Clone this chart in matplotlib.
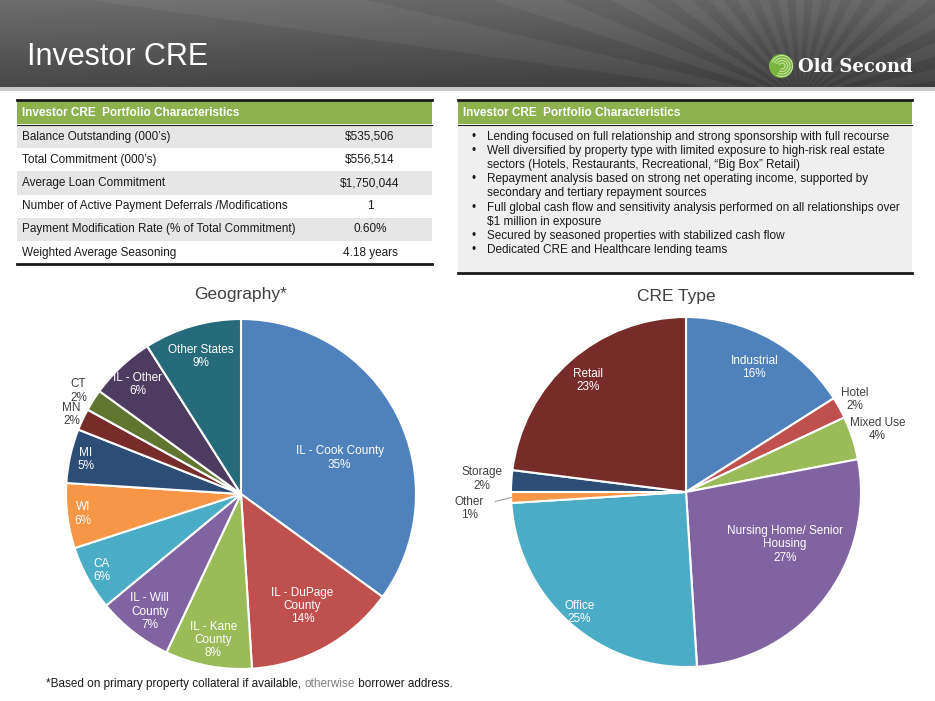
import numpy as np
import matplotlib.pyplot as plt
from matplotlib.patches import Rectangle, Polygon, Circle, Arc

plt.rcParams['font.family'] = ['Liberation Sans', 'DejaVu Sans']

W, H = 935, 701

# ---- data ----
table_title = "Investor CRE  Portfolio Characteristics"
table_labels = ["Balance Outstanding (000\u2019s)", "Total Commitment (000\u2019s)",
                "Average Loan Commitment", "Number of Active Payment Deferrals /Modifications",
                "Payment Modification Rate (% of Total Commitment)", "Weighted Average Seasoning"]
table_values = ["$535,506", "$556,514", "$1,750,044", "1", "0.60%", "4.18 years"]

bullets = [
    ["Lending focused on full relationship and strong sponsorship with full recourse"],
    ["Well diversified by property type with limited exposure to high-risk real estate",
     "sectors (Hotels, Restaurants, Recreational, \u201cBig Box\u201d Retail)"],
    ["Repayment analysis based on strong net operating income, supported by",
     "secondary and tertiary repayment sources"],
    ["Full global cash flow and sensitivity analysis performed on all relationships over",
     "$1 million in exposure"],
    ["Secured by seasoned properties with stabilized cash flow"],
    ["Dedicated CRE and Healthcare lending teams"],
]

geo_labels = ["IL - Cook County", "IL - DuPage\nCounty", "IL - Kane\nCounty", "IL - Will\nCounty",
              "CA", "WI", "MI", "MN", "CT", "IL - Other", "Other States"]
geo_pct = [35, 14, 8, 7, 6, 6, 5, 2, 2, 6, 9]
geo_colors = ["#4f81bd", "#c0504d", "#9bbb59", "#8064a2", "#4bacc6", "#f79646",
              "#2c4d75", "#772c2a", "#5f7530", "#4d3b62", "#276a7c"]
# label placement (radius fraction, angle nudge in degrees)
geo_rfac = [0.60, 0.73, 0.85, 0.85, 0.91, 0.91, 0.91, 1.07, 1.10, 0.86, 0.82]
geo_nudge = [-7, 0, 0, 0, 0, 0, 0, 0, 0, 0, 0]

cre_labels = ["Industrial", "Hotel", "Mixed Use", "Nursing Home/ Senior\nHousing",
              "Office", "Other", "Storage", "Retail"]
cre_pct = [16, 2, 4, 27, 25, 1, 2, 23]
cre_colors = ["#4f81bd", "#c0504d", "#9bbb59", "#8064a2", "#4bacc6", "#f79646",
              "#2c4d75", "#772c2a"]
cre_rfac = [0.81, 1.10, 1.15, 0.64, 0.92, 1.24, 1.17, 0.85]
cre_nudge = [0, 0, 0, 10, 0, 2.5, 0, 0]

fig = plt.figure(figsize=(9.35, 7.01), dpi=100)
bg = fig.add_axes([0, 0, 1, 1])
bg.axis('off')

# ---- header band ----
grad = np.linspace(0.40, 0.25, 88)[:, None] * np.ones((1, 200))
horiz = np.linspace(0.03, -0.02, 200)[None, :]
g = np.clip(grad + horiz, 0, 1)
bg.imshow(np.dstack([g, g, g]), extent=(0, W, 88, 0), aspect='auto', zorder=0)
clip = Rectangle((0, 0), W, 88, transform=bg.transData, visible=False)
bg.add_patch(clip)
apex = (800, 100)
angs = np.linspace(8, 172, 34)
for i in range(0, len(angs) - 1, 2):
    a0, a1 = np.radians(angs[i]), np.radians(angs[i + 1])
    pts = [apex, (apex[0] + 1500 * np.cos(a0), apex[1] - 1500 * np.sin(a0)),
           (apex[0] + 1500 * np.cos(a1), apex[1] - 1500 * np.sin(a1))]
    p = Polygon(pts, closed=True, facecolor='white', alpha=0.05, edgecolor='none', zorder=1)
    bg.add_patch(p)
    p.set_clip_path(clip)
bg.add_patch(Rectangle((0, 87), W, 4, facecolor='#c9c9c9', edgecolor='none', zorder=2))
bg.text(27, 57, "Investor CRE", color='white', fontsize=22, va='center', ha='left', zorder=3)

# logo
bg.add_patch(Circle((781, 66), 12, facecolor='#78b43e', edgecolor='none', zorder=3))
for r in [3, 5.5, 8, 10.5]:
    bg.add_patch(Arc((782, 66), 2 * r, 2 * r, theta1=200, theta2=120,
                     color='#c8e6a0', lw=0.8, zorder=4))
bg.text(798, 67, "Old Second", color='white', fontsize=13, fontweight='bold',
        family='DejaVu Serif', va='center', ha='left', zorder=3)

# ---- left table ----
lx0, lx1 = 17, 432
bg.add_patch(Rectangle((lx0, 101), lx1 - lx0, 23, facecolor='#8db14c', edgecolor='none'))
bg.plot([lx0, lx1], [100, 100], color='#1a1a1a', lw=2)
bg.plot([lx0, lx1], [124.5, 124.5], color='#1a1a1a', lw=0.8)
bg.text(22, 112.5, table_title, color='white', fontsize=8.5, fontweight='bold', va='center')
row_h = 23.2
for i, (lab, val) in enumerate(zip(table_labels, table_values)):
    y0 = 125 + i * row_h
    if i % 2 == 0:
        bg.add_patch(Rectangle((lx0, y0), lx1 - lx0, row_h, facecolor='#e6e6e6', edgecolor='none'))
    bg.text(22, y0 + row_h / 2, lab, fontsize=8.5, color='#1a1a1a', va='center')
    bg.text(370, y0 + row_h / 2, val, fontsize=8.5, color='#1a1a1a', va='center', ha='center')
bg.plot([lx0, lx1], [264, 264], color='#1a1a1a', lw=2)

# ---- right table ----
rx0, rx1 = 458, 912
bg.add_patch(Rectangle((rx0, 101), rx1 - rx0, 23, facecolor='#8db14c', edgecolor='none'))
bg.add_patch(Rectangle((rx0, 125), rx1 - rx0, 148, facecolor='#efefef', edgecolor='none'))
bg.plot([rx0, rx1], [100, 100], color='#1a1a1a', lw=2)
bg.plot([rx0, rx1], [124.5, 124.5], color='#1a1a1a', lw=0.8)
bg.plot([rx0, rx1], [273, 273], color='#1a1a1a', lw=2)
bg.text(463, 112.5, table_title, color='white', fontsize=8.5, fontweight='bold', va='center')
y = 137
for item in bullets:
    bg.text(471, y, "\u2022", fontsize=8.5, color='#1a1a1a', va='center')
    for line in item:
        bg.text(487, y, line, fontsize=8.5, color='#1a1a1a', va='center')
        y += 14.1

# ---- titles / footnote ----
bg.text(241, 295, "Geography*", fontsize=12.5, color='#404040', ha='center', va='center')
bg.text(676, 296, "CRE Type", fontsize=12.5, color='#404040', ha='center', va='center')
t1 = bg.text(46, 684, "*Based on primary property collateral if available, ", fontsize=8.5,
             color='#1a1a1a', va='center')
t2 = bg.annotate("otherwise", xy=(1, 0), xycoords=t1, va='bottom', fontsize=8.5, color='#7f7f7f')
bg.annotate(" borrower address.", xy=(1, 0), xycoords=t2, va='bottom', fontsize=8.5, color='#1a1a1a')

bg.set_xlim(0, W)
bg.set_ylim(H, 0)


def draw_pie(cx, cy, R, pct, colors, labels, rfac, nudge):
    S = 2.6 * R
    ax = fig.add_axes([(cx - S / 2) / W, 1 - (cy + S / 2) / H, S / W, S / H])
    wedges, _ = ax.pie(pct, colors=colors, startangle=90, counterclock=False, radius=1,
                       wedgeprops=dict(edgecolor='white', linewidth=1.5))
    for w, lab, p, rf, nd in zip(wedges, labels, pct, rfac, nudge):
        mid = np.radians((w.theta1 + w.theta2) / 2)
        ang = mid + np.radians(nd)
        col = 'white' if rf < 1 else '#404040'
        ax.text(rf * np.cos(ang), rf * np.sin(ang), f"{lab}\n{p}%", ha='center', va='center',
                fontsize=8.5, color=col, linespacing=1.15)
        if rf > 1.2:
            ax.plot([np.cos(mid), 1.09 * np.cos(mid)], [np.sin(mid), 1.09 * np.sin(mid) - 0.02],
                    color='#a0a0a0', lw=0.8)
    ax.set_xlim(-1.3, 1.3)
    ax.set_ylim(-1.3, 1.3)
    ax.axis('off')


draw_pie(241, 494, 175, geo_pct, geo_colors, geo_labels, geo_rfac, geo_nudge)
draw_pie(686, 492, 175, cre_pct, cre_colors, cre_labels, cre_rfac, cre_nudge)

fig.savefig("out.png", dpi=100)
